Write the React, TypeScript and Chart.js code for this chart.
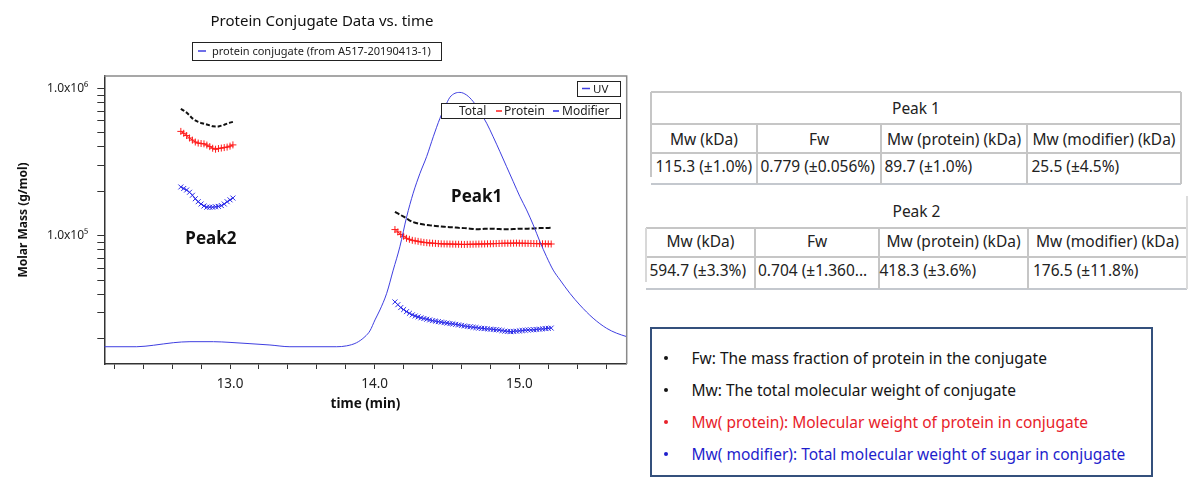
import React, { useEffect, useRef } from 'react';
import { Chart, registerables } from 'chart.js';

Chart.register(...registerables);

// ---------- text ----------
const chartTitle = 'Protein Conjugate Data vs. time';
const sampleLegend = 'protein conjugate (from A517-20190413-1)';
const xAxisTitle = 'time (min)';
const yAxisTitle = 'Molar Mass (g/mol)';
const peakLabels = ['Peak1', 'Peak2'];

// ---------- axes ----------
const xTicks = [12.2, 12.4, 12.6, 12.8, 13.0, 13.2, 13.4, 13.6, 13.8, 14.0, 14.2, 14.4, 14.6, 14.8, 15.0, 15.2, 15.4, 15.6];
const xTickLabels = ['', '', '', '', '13.0', '', '', '', '', '14.0', '', '', '', '', '15.0', '', '', ''];
const yTicks = [2e4, 3e4, 4e4, 5e4, 6e4, 7e4, 8e4, 9e4, 1e5, 2e5, 3e5, 4e5, 5e5, 6e5, 7e5, 8e5, 9e5, 1e6];
const yTickLabels = ['', '', '', '', '', '', '', '', '1.0x10\u2075', '', '', '', '', '', '', '', '', '1.0x10\u2076'];

// ---------- UV trace (relative signal) ----------
const uvTimes = [12.131, 12.355, 12.47, 12.608, 12.723, 12.886, 13.0, 13.138, 13.276, 13.414, 13.737, 13.806, 13.875, 13.933, 13.967, 14.002, 14.036, 14.083, 14.128, 14.174, 14.221, 14.266, 14.313, 14.359, 14.405, 14.451, 14.486, 14.52, 14.555, 14.589, 14.635, 14.681, 14.727, 14.774, 14.819, 14.866, 14.912, 14.958, 15.004, 15.05, 15.096, 15.142, 15.188, 15.234, 15.281, 15.35, 15.418, 15.51, 15.603, 15.672, 15.742];
const uvValues = [0.060, 0.060, 0.065, 0.074, 0.0775, 0.0775, 0.075, 0.0706, 0.066, 0.060, 0.060, 0.063, 0.074, 0.095, 0.115, 0.153, 0.1875, 0.2455, 0.326, 0.407, 0.511, 0.593, 0.662, 0.720, 0.789, 0.853, 0.893, 0.926, 0.940, 0.943, 0.934, 0.911, 0.876, 0.836, 0.789, 0.737, 0.685, 0.633, 0.581, 0.535, 0.483, 0.425, 0.3726, 0.326, 0.292, 0.245, 0.205, 0.159, 0.124, 0.107, 0.095];

// ---------- Peak 2 molar masses ----------
const peak2Times = [12.66, 12.68, 12.70, 12.72, 12.74, 12.76, 12.78, 12.80, 12.82, 12.84, 12.86, 12.88, 12.90, 12.92, 12.94, 12.96, 12.98, 13.00, 13.02];
const peak2Total = [7.25e5, 7.05e5, 6.84e5, 6.55e5, 6.25e5, 6.05e5, 5.92e5, 5.82e5, 5.75e5, 5.68e5, 5.60e5, 5.52e5, 5.50e5, 5.50e5, 5.58e5, 5.66e5, 5.76e5, 5.85e5, 5.92e5];
const peak2Protein = [5.1e5, 4.95e5, 4.78e5, 4.6e5, 4.45e5, 4.32e5, 4.25e5, 4.22e5, 4.2e5, 4.12e5, 4.02e5, 3.92e5, 3.86e5, 3.9e5, 3.93e5, 3.96e5, 3.99e5, 4.05e5, 4.13e5];
const peak2Modifier = [2.14e5, 2.09e5, 2.04e5, 1.97e5, 1.88e5, 1.78e5, 1.70e5, 1.64e5, 1.59e5, 1.56e5, 1.56e5, 1.56e5, 1.57e5, 1.58e5, 1.60e5, 1.64e5, 1.70e5, 1.75e5, 1.80e5];

// ---------- Peak 1 molar masses ----------
const peak1Times = [
  14.14, 14.16, 14.18, 14.20, 14.22, 14.24, 14.26, 14.28, 14.30, 14.32,
  14.34, 14.36, 14.38, 14.40, 14.42, 14.44, 14.46, 14.48, 14.50, 14.52,
  14.54, 14.56, 14.58, 14.60, 14.62, 14.64, 14.66, 14.68, 14.70, 14.72,
  14.74, 14.76, 14.78, 14.80, 14.82, 14.84, 14.86, 14.88, 14.90, 14.92,
  14.94, 14.96, 14.98, 15.00, 15.02, 15.04, 15.06, 15.08, 15.10, 15.12,
  15.14, 15.16, 15.18, 15.20, 15.22,
];
const peak1Total = [
  1.45e5, 1.415e5, 1.38e5, 1.345e5, 1.31e5, 1.27e5, 1.24e5, 1.225e5, 1.21e5, 1.20e5,
  1.19e5, 1.182e5, 1.175e5, 1.17e5, 1.165e5, 1.16e5, 1.155e5, 1.15e5, 1.145e5, 1.142e5,
  1.14e5, 1.135e5, 1.13e5, 1.128e5, 1.125e5, 1.12e5, 1.115e5, 1.11e5, 1.105e5, 1.105e5,
  1.11e5, 1.115e5, 1.115e5, 1.115e5, 1.115e5, 1.11e5, 1.11e5, 1.105e5, 1.105e5, 1.105e5,
  1.105e5, 1.11e5, 1.11e5, 1.115e5, 1.115e5, 1.115e5, 1.115e5, 1.12e5, 1.12e5, 1.122e5,
  1.125e5, 1.125e5, 1.125e5, 1.128e5, 1.13e5,
];
const peak1Protein = [
  1.10e5, 1.06e5, 1.02e5, 9.9e4, 9.6e4, 9.45e4, 9.3e4, 9.22e4, 9.15e4, 9.07e4,
  9.0e4, 8.96e4, 8.92e4, 8.89e4, 8.86e4, 8.83e4, 8.8e4, 8.79e4, 8.78e4, 8.77e4,
  8.76e4, 8.75e4, 8.74e4, 8.73e4, 8.72e4, 8.73e4, 8.74e4, 8.75e4, 8.76e4, 8.77e4,
  8.78e4, 8.79e4, 8.8e4, 8.81e4, 8.82e4, 8.84e4, 8.85e4, 8.87e4, 8.88e4, 8.88e4,
  8.88e4, 8.89e4, 8.9e4, 8.89e4, 8.88e4, 8.87e4, 8.86e4, 8.85e4, 8.84e4, 8.83e4,
  8.82e4, 8.81e4, 8.8e4, 8.79e4, 8.78e4,
];
const peak1Modifier = [
  3.55e4, 3.4e4, 3.25e4, 3.15e4, 3.05e4, 2.97e4, 2.9e4, 2.85e4, 2.81e4, 2.77e4,
  2.74e4, 2.71e4, 2.68e4, 2.65e4, 2.63e4, 2.61e4, 2.59e4, 2.57e4, 2.55e4, 2.53e4,
  2.52e4, 2.5e4, 2.48e4, 2.46e4, 2.44e4, 2.42e4, 2.41e4, 2.39e4, 2.38e4, 2.36e4,
  2.35e4, 2.34e4, 2.33e4, 2.32e4, 2.31e4, 2.3e4, 2.29e4, 2.27e4, 2.25e4, 2.24e4,
  2.23e4, 2.24e4, 2.25e4, 2.26e4, 2.27e4, 2.28e4, 2.29e4, 2.295e4, 2.3e4, 2.31e4,
  2.32e4, 2.33e4, 2.34e4, 2.35e4, 2.36e4,
];

// annotation anchors (data coordinates)
const peakLabelTimes = [14.705, 12.868];
const peakLabelMasses = [1.83e5, 9.5e4];

// ---------- tables ----------
const tableHeaders = ['Mw (kDa)', 'Fw', 'Mw (protein) (kDa)', 'Mw (modifier) (kDa)'];
const peak1Values = ['115.3 (\u00b11.0%)', '0.779 (\u00b10.056%)', '89.7 (\u00b11.0%)', '25.5 (\u00b14.5%)'];
const peak2Values = ['594.7 (\u00b13.3%)', '0.704 (\u00b11.360...', '418.3 (\u00b13.6%)', '176.5 (\u00b111.8%)'];
const noteLines = [
  'Fw: The mass fraction of protein in the conjugate',
  'Mw: The total molecular weight of conjugate',
  'Mw( protein): Molecular weight of protein in conjugate',
  'Mw( modifier): Total molecular weight of sugar in conjugate',
];
const noteColors = ['#151515', '#151515', '#e8222a', '#1e1ecc'];

const uvColor = '#3f3fe0';
const totalColor = '#111111';
const proteinColor = '#ff1c1c';
const modifierColor = '#2a2ae8';
const FONT = "'Noto Sans', sans-serif";

const pts = (xs: number[], ys: number[]) => xs.map((x, i) => ({ x, y: ys[i] }));

function box(ctx: CanvasRenderingContext2D, x: number, y: number, w: number, h: number) {
  ctx.fillStyle = '#ffffff';
  ctx.fillRect(x, y, w, h);
  ctx.strokeStyle = '#222222';
  ctx.lineWidth = 1;
  ctx.strokeRect(x, y, w, h);
}
function seg(ctx: CanvasRenderingContext2D, x1: number, x2: number, y: number, color: string) {
  ctx.strokeStyle = color;
  ctx.lineWidth = 1.5;
  ctx.beginPath();
  ctx.moveTo(x1, y);
  ctx.lineTo(x2, y);
  ctx.stroke();
}

const overlayPlugin = {
  id: 'overlay',
  afterDraw(chart: any) {
    const { ctx, chartArea: a, scales } = chart;
    ctx.save();
    ctx.strokeStyle = '#8a8a8a';
    ctx.lineWidth = 1.5;
    ctx.beginPath();
    ctx.moveTo(a.left, a.top);
    ctx.lineTo(a.right, a.top);
    ctx.lineTo(a.right, a.bottom);
    ctx.stroke();

    ctx.textBaseline = 'middle';
    ctx.fillStyle = '#111';
    ctx.font = `15px ${FONT}`;
    ctx.textAlign = 'center';
    ctx.fillText(chartTitle, 322, 22);

    ctx.textAlign = 'left';
    box(ctx, 192.5, 42.5, 249, 18);
    seg(ctx, 198, 206, 51, uvColor);
    ctx.fillStyle = '#222';
    ctx.font = `11px ${FONT}`;
    ctx.fillText(sampleLegend, 212, 52);

    box(ctx, 577.5, 81.5, 43, 15);
    seg(ctx, 582, 590, 88.5, uvColor);
    ctx.fillStyle = '#222';
    ctx.font = `11.5px ${FONT}`;
    ctx.fillText('UV', 593, 89.5);

    box(ctx, 441.5, 103.5, 179, 15);
    ctx.font = `12px ${FONT}`;
    ctx.fillStyle = '#222';
    ctx.fillText('Total', 459, 111.5);
    seg(ctx, 496, 502, 111, proteinColor);
    ctx.fillStyle = '#222';
    ctx.fillText('Protein', 504, 111.5);
    seg(ctx, 553, 559, 111, modifierColor);
    ctx.fillStyle = '#222';
    ctx.fillText('Modifier', 562, 111.5);

    ctx.font = `bold 17px ${FONT}`;
    ctx.fillStyle = '#111';
    ctx.textAlign = 'center';
    peakLabels.forEach((t, i) => {
      ctx.fillText(t, scales.x.getPixelForValue(peakLabelTimes[i]), scales.y.getPixelForValue(peakLabelMasses[i]));
    });
    ctx.restore();
  },
};

function ChartCanvas() {
  const ref = useRef<HTMLCanvasElement>(null);
  useEffect(() => {
    Chart.defaults.font.family = FONT;
    const tickGrid = (len: number) => ({
      display: true,
      drawOnChartArea: false,
      drawTicks: true,
      tickLength: len,
      tickColor: '#333',
      tickWidth: 1,
    });
    const chart = new Chart(ref.current as HTMLCanvasElement, {
      type: 'line',
      data: {
        datasets: [
          { label: 'UV', data: pts(uvTimes, uvValues), yAxisID: 'y2', borderColor: uvColor, borderWidth: 1, pointRadius: 0, cubicInterpolationMode: 'monotone', fill: false },
          { label: 'Total P2', data: pts(peak2Times, peak2Total), yAxisID: 'y', borderColor: totalColor, borderWidth: 2, borderDash: [4, 2], pointRadius: 0 },
          { label: 'Total P1', data: pts(peak1Times, peak1Total), yAxisID: 'y', borderColor: totalColor, borderWidth: 2, borderDash: [5, 2], pointRadius: 0 },
          { label: 'Protein P2', data: pts(peak2Times, peak2Protein), yAxisID: 'y', borderColor: proteinColor, borderWidth: 1, pointStyle: 'cross', pointRadius: 3.5, pointBorderWidth: 1, pointBorderColor: proteinColor },
          { label: 'Protein P1', data: pts(peak1Times, peak1Protein), yAxisID: 'y', borderColor: proteinColor, borderWidth: 1, pointStyle: 'cross', pointRadius: 3.5, pointBorderWidth: 1, pointBorderColor: proteinColor },
          { label: 'Modifier P2', data: pts(peak2Times, peak2Modifier), yAxisID: 'y', borderColor: modifierColor, borderWidth: 1, pointStyle: 'crossRot', pointRadius: 3.5, pointBorderWidth: 1, pointBorderColor: modifierColor },
          { label: 'Modifier P1', data: pts(peak1Times, peak1Modifier), yAxisID: 'y', borderColor: modifierColor, borderWidth: 1, pointStyle: 'crossRot', pointRadius: 3.5, pointBorderWidth: 1, pointBorderColor: modifierColor },
        ],
      } as any,
      options: {
        responsive: false,
        animation: false,
        events: [],
        layout: { padding: { left: 0, right: 13.3, top: 76, bottom: 0 } },
        plugins: { legend: { display: false }, title: { display: false }, tooltip: { enabled: false } },
        scales: {
          x: {
            type: 'linear',
            min: 12.131,
            max: 15.742,
            afterBuildTicks: (s: any) => { s.ticks = xTicks.map((v) => ({ value: v })); },
            afterFit: (s: any) => { s.height = 125; },
            grid: tickGrid(5),
            border: { display: true, color: '#333', width: 1.5 },
            ticks: { autoSkip: false, maxRotation: 0, minRotation: 0, padding: 7, color: '#222', font: { size: 13.5 }, callback: (_v: any, i: number) => xTickLabels[i] },
            title: { display: true, text: xAxisTitle, color: '#111', font: { size: 13.5, weight: 'bold' }, padding: { top: 0, bottom: 77 } },
          },
          y: {
            type: 'logarithmic',
            position: 'left',
            min: 13460,
            max: 1212000,
            afterBuildTicks: (s: any) => { s.ticks = yTicks.map((v) => ({ value: v })); },
            afterFit: (s: any) => { s.width = 104.3; },
            grid: tickGrid(7),
            border: { display: true, color: '#333', width: 1.5 },
            ticks: { autoSkip: false, padding: 9, color: '#222', font: { size: 12 }, callback: (_v: any, i: number) => yTickLabels[i] },
            title: { display: true, text: yAxisTitle, color: '#111', font: { size: 12, weight: 'bold' }, padding: { top: 16.8, bottom: 0 } },
          },
          y2: { type: 'linear', display: false, min: 0, max: 1 },
        },
      } as any,
      plugins: [overlayPlugin],
    });
    return () => chart.destroy();
  }, []);
  return <canvas ref={ref} width={640} height={489} style={{ position: 'absolute', left: 0, top: 0, width: 640, height: 489 }} />;
}

// ---------- HTML helpers ----------
const LINE = '#c6c6c6';
const H = (x1: number, x2: number, y: number, color = LINE, w = 1.3) => (
  <div style={{ position: 'absolute', left: x1, top: y - w / 2, width: x2 - x1, height: w, background: color }} />
);
const V = (x: number, y1: number, y2: number, color = LINE, w = 1.3) => (
  <div style={{ position: 'absolute', left: x - w / 2, top: y1, width: w, height: y2 - y1, background: color }} />
);
const T = (text: string, left: number, cy: number, width?: number, align: 'left' | 'center' = 'left', color = '#222', size = 15.5) => (
  <div style={{ position: 'absolute', left, top: cy - 11, width, height: 22, lineHeight: '22px', fontSize: size, color, textAlign: align, whiteSpace: 'nowrap' }}>{text}</div>
);

function PeakTable(props: { title: string; values: string[]; cols: number[]; rows: number[]; textX: number[]; centers: number[]; topLine: boolean }) {
  const { title, values, cols, rows, textX, centers, topLine } = props;
  const L = cols[0];
  const R = cols[cols.length - 1];
  return (
    <>
      {topLine && H(L, R, rows[0])}
      {H(L, R, rows[1])}
      {H(L, R, rows[2])}
      {H(L, R, rows[3], '#c4c8ce', 2)}
      {topLine ? V(L, rows[0], rows[3] - 7) : V(L, rows[1], rows[3] - 7, '#d8d8d8')}
      {V(R, rows[0], rows[3], topLine ? LINE : '#dcdcdc')}
      {cols.slice(1, -1).map((c, i) => <React.Fragment key={i}>{V(c, rows[1], rows[3])}</React.Fragment>)}
      {T(title, L, centers[0], R - L, 'center')}
      {tableHeaders.map((h, i) => <React.Fragment key={'h' + i}>{T(h, cols[i], centers[1], cols[i + 1] - cols[i], 'center')}</React.Fragment>)}
      {values.map((v, i) => <React.Fragment key={'v' + i}>{T(v, textX[i], centers[2])}</React.Fragment>)}
    </>
  );
}

export default function App() {
  const noteCenters = [357.7, 390, 422.3, 454.3];
  return (
    <div style={{ position: 'fixed', left: 0, top: 0, width: 1200, height: 489, background: '#fff', overflow: 'hidden', fontFamily: FONT }}>
      <ChartCanvas />
      <PeakTable
        title="Peak 1"
        values={peak1Values}
        cols={[651, 757, 881, 1027, 1181]}
        rows={[92, 124, 153, 184]}
        textX={[655.5, 760.5, 884.5, 1031.5]}
        centers={[108, 138.5, 166]}
        topLine={true}
      />
      <PeakTable
        title="Peak 2"
        values={peak2Values}
        cols={[646, 755, 879, 1028, 1187]}
        rows={[196, 228, 257, 289]}
        textX={[649.5, 758, 879.5, 1033]}
        centers={[211, 241, 269.5]}
        topLine={false}
      />
      <div style={{ position: 'absolute', left: 650, top: 327, width: 503, height: 150, border: '2px solid #34507c', boxSizing: 'border-box' }} />
      {noteLines.map((line, i) => (
        <React.Fragment key={i}>
          <div style={{ position: 'absolute', left: 664, top: noteCenters[i] - 2, width: 4.2, height: 4.2, borderRadius: '50%', background: noteColors[i] }} />
          {T(line, 691.5, noteCenters[i], undefined, 'left', noteColors[i], 15.5)}
        </React.Fragment>
      ))}
    </div>
  );
}
